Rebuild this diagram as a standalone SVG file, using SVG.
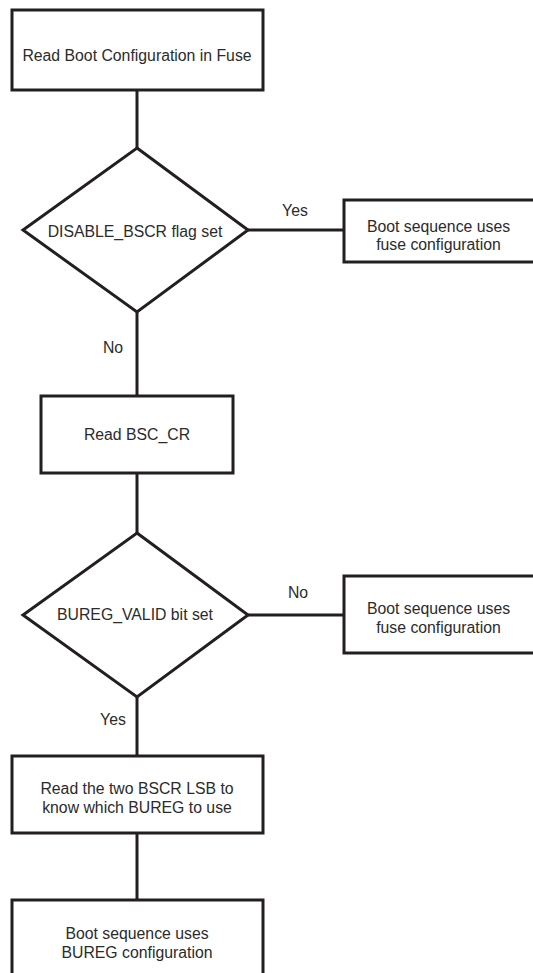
<svg xmlns="http://www.w3.org/2000/svg" width="533" height="973" viewBox="0 0 533 973">
<style>
.box{fill:#fff;stroke:#231f20;stroke-width:3}
.ln{fill:none;stroke:#231f20;stroke-width:3}
text{font-family:"Liberation Sans",Arial,sans-serif;font-size:15.8px;fill:#2b2b2b;text-anchor:middle}
</style>
<rect width="533" height="973" fill="#fff"/>
<g id="connectors">
<line class="ln" x1="137" y1="90" x2="137" y2="148"/>
<line class="ln" x1="137" y1="312" x2="137" y2="396"/>
<line class="ln" x1="137" y1="473" x2="137" y2="533"/>
<line class="ln" x1="137" y1="697" x2="137" y2="756"/>
<line class="ln" x1="137" y1="833" x2="137" y2="900"/>
<line class="ln" x1="248" y1="230" x2="344" y2="230"/>
<line class="ln" x1="248" y1="615" x2="344" y2="615"/>
<text x="295" y="216">Yes</text>
<text x="113" y="353">No</text>
<text x="298" y="598">No</text>
<text x="113" y="725">Yes</text>
</g>
<g id="n1">
<rect class="box" x="12" y="10" width="251" height="80"/>
<text x="137" y="61">Read Boot Configuration in Fuse</text>
</g>
<g id="d1">
<polygon class="box" points="137,148 248,230 137,312 23,230"/>
<text x="135" y="237">DISABLE_BSCR flag set</text>
</g>
<g id="r1">
<rect class="box" x="344" y="200" width="200" height="62"/>
<text x="438.5" y="232">Boot sequence uses</text>
<text x="438.5" y="250">fuse configuration</text>
</g>
<g id="n2">
<rect class="box" x="41" y="396" width="192" height="77"/>
<text x="137" y="440">Read BSC_CR</text>
</g>
<g id="d2">
<polygon class="box" points="137,533 248,615 137,697 23,615"/>
<text x="135" y="620">BUREG_VALID bit set</text>
</g>
<g id="r2">
<rect class="box" x="344" y="576" width="200" height="77"/>
<text x="438.5" y="614">Boot sequence uses</text>
<text x="438.5" y="633">fuse configuration</text>
</g>
<g id="n3">
<rect class="box" x="12" y="756" width="251" height="77"/>
<text x="137" y="794">Read the two BSCR LSB to</text>
<text x="137" y="813">know which BUREG to use</text>
</g>
<g id="n4">
<rect class="box" x="12" y="900" width="251" height="80"/>
<text x="137" y="939">Boot sequence uses</text>
<text x="137" y="958">BUREG configuration</text>
</g>
</svg>
